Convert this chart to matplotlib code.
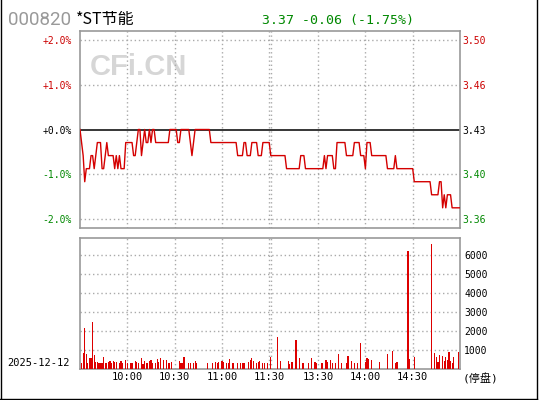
import matplotlib
matplotlib.use('Agg')
import matplotlib.pyplot as plt
from matplotlib.lines import Line2D
import numpy as np

matplotlib.rcParams['font.family'] = ['DejaVu Sans Mono', 'Noto Sans CJK SC']

code = '000820'
name = '*ST节能'
prev_close = 3.43
date = '2025-12-12'
status = '(停盘)'

# one price per minute, 09:30 ... 11:30 | 13:00 ... 15:00
price = [
    3.43, 3.42, 3.41, 3.39, 3.40, 3.40, 3.40, 3.41, 3.41, 3.40,
    3.41, 3.42, 3.42, 3.42, 3.40, 3.40, 3.41, 3.42, 3.41, 3.41,
    3.41, 3.41, 3.40, 3.41, 3.40, 3.41, 3.40, 3.40, 3.40, 3.42,
    3.42, 3.42, 3.42, 3.42, 3.41, 3.41, 3.42, 3.43, 3.43, 3.41,
    3.42, 3.43, 3.42, 3.42, 3.43, 3.42, 3.43, 3.43, 3.42, 3.42,
    3.42, 3.42, 3.42, 3.42, 3.42, 3.42, 3.42, 3.43, 3.43, 3.43,
    3.43, 3.43, 3.42, 3.42, 3.43, 3.43, 3.43, 3.43, 3.43, 3.43,
    3.42, 3.41, 3.42, 3.43, 3.43, 3.43, 3.43, 3.43, 3.43, 3.43,
    3.43, 3.43, 3.43, 3.42, 3.42, 3.42, 3.42, 3.42, 3.42, 3.42,
    3.42, 3.42, 3.42, 3.42, 3.42, 3.42, 3.42, 3.42, 3.42, 3.42,
    3.41, 3.41, 3.41, 3.41, 3.42, 3.42, 3.41, 3.41, 3.41, 3.42,
    3.42, 3.42, 3.42, 3.41, 3.41, 3.41, 3.42, 3.42, 3.42, 3.42,
    3.42, 3.41, 3.41, 3.41, 3.41, 3.41, 3.41, 3.41, 3.41, 3.41,
    3.41, 3.40, 3.40, 3.40, 3.40, 3.40, 3.40, 3.40, 3.40, 3.40,
    3.41, 3.41, 3.41, 3.40, 3.40, 3.40, 3.40, 3.40, 3.40, 3.40,
    3.40, 3.40, 3.40, 3.40, 3.40, 3.41, 3.40, 3.41, 3.41, 3.41,
    3.41, 3.40, 3.40, 3.42, 3.42, 3.42, 3.42, 3.42, 3.42, 3.41,
    3.41, 3.41, 3.41, 3.41, 3.42, 3.42, 3.42, 3.42, 3.41, 3.41,
    3.41, 3.40, 3.42, 3.42, 3.42, 3.41, 3.41, 3.41, 3.41, 3.41,
    3.41, 3.41, 3.41, 3.41, 3.41, 3.40, 3.40, 3.40, 3.40, 3.40,
    3.41, 3.40, 3.40, 3.40, 3.40, 3.40, 3.40, 3.40, 3.40, 3.40,
    3.40, 3.40, 3.39, 3.39, 3.39, 3.39, 3.39, 3.39, 3.39, 3.39,
    3.39, 3.39, 3.39, 3.38, 3.38, 3.38, 3.38, 3.38, 3.39, 3.39,
    3.37, 3.38, 3.37, 3.38, 3.38, 3.38, 3.37, 3.37, 3.37, 3.37,
    3.37, 3.37,
]

volume = [
    0, 330, 860, 2200, 800, 330, 600, 600, 2490, 750,
    390, 390, 330, 330, 330, 650, 330, 330, 390, 440,
    330, 440, 390, 390, 0, 330, 440, 330, 0, 490,
    330, 0, 330, 330, 0, 440, 390, 330, 0, 600,
    280, 440, 330, 330, 440, 490, 330, 0, 330, 540,
    390, 600, 0, 490, 0, 490, 330, 330, 390, 0,
    0, 0, 0, 440, 330, 330, 650, 0, 0, 330,
    330, 0, 330, 440, 330, 0, 0, 0, 0, 0,
    0, 330, 0, 0, 330, 0, 390, 330, 390, 0,
    440, 390, 0, 330, 330, 540, 0, 330, 0, 0,
    330, 0, 330, 330, 330, 0, 0, 390, 490, 600,
    440, 0, 330, 390, 440, 0, 330, 330, 0, 330,
    0, 650, 0, 0, 0, 1700, 0, 440, 0, 0,
    0, 0, 440, 280, 390, 390, 0, 1540, 0, 600,
    0, 330, 330, 0, 0, 330, 0, 600, 0, 390,
    330, 0, 0, 330, 330, 0, 490, 390, 0, 490,
    330, 0, 330, 0, 800, 0, 330, 0, 0, 330,
    700, 0, 440, 0, 330, 0, 330, 0, 1380, 0,
    0, 390, 600, 540, 0, 490, 0, 0, 0, 0,
    390, 0, 0, 0, 0, 800, 0, 0, 960, 0,
    330, 390, 0, 0, 0, 0, 0, 0, 6240, 540,
    0, 0, 650, 0, 0, 0, 0, 0, 0, 0,
    0, 0, 0, 6590, 0, 860, 650, 390, 750, 0,
    700, 440, 650, 490, 910, 440, 330, 650, 0, 0,
    910, 0,
]

pct_ticks = [-2, -1, 0, 1, 2]
vol_ticks = [1000, 2000, 3000, 4000, 5000, 6000]
time_pos = [30, 60, 90, 120, 151, 181, 211]
time_labels = ['10:00', '10:30', '11:00', '11:30', '13:30', '14:00', '14:30']
grid_x = [30, 60, 90, 120, 121, 151, 181, 211]

RED = '#cc0000'
GREEN = '#008800'
GRID = '#aaaaaa'
FRAME = '#999999'
DOT = (0, (1, 2))

minutes = np.arange(len(price))
pct = (np.array(price) / prev_close - 1) * 100
last = price[-1]
chg = last - prev_close

fig = plt.figure(figsize=(5.4, 4), dpi=100)
W, H = 540.0, 400.0

ax1 = fig.add_axes([80 / W, 172 / H, 380 / W, 197 / H])
ax2 = fig.add_axes([80 / W, 30.7 / H, 380 / W, 131 / H])

for ax in (ax1, ax2):
    for s in ax.spines.values():
        s.set_color(FRAME)
        s.set_linewidth(1.2)
    ax.set_xlim(0, len(price) - 1)
    for gx in grid_x:
        ax.axvline(gx, color=GRID, lw=1, ls=DOT, zorder=1)

# price panel
ax1.set_ylim(-2.2, 2.2)
for p in pct_ticks:
    if p != 0:
        ax1.axhline(p, color=GRID, lw=1, ls=DOT, zorder=1)
ax1.axhline(0, color='black', lw=1.1, zorder=2)
ax1.plot(minutes, pct, color='#d40000', lw=1.0, zorder=3)
ax1.set_xticks([])
ax1.set_yticks(pct_ticks)
ax1.set_yticklabels([f'{p:+.1f}%' for p in pct_ticks])
ax1.tick_params(axis='y', length=0, pad=6, labelsize=7)
for lab, p in zip(ax1.get_yticklabels(), pct_ticks):
    lab.set_color(RED if p > 0 else (GREEN if p < 0 else 'black'))

ax1r = ax1.twinx()
ax1r.set_ylim(ax1.get_ylim())
ax1r.set_yticks(pct_ticks)
ax1r.set_yticklabels([f'{prev_close * (1 + p / 100):.2f}' for p in pct_ticks])
ax1r.tick_params(axis='y', length=0, pad=1.5, labelsize=7)
for lab, p in zip(ax1r.get_yticklabels(), pct_ticks):
    lab.set_color(RED if p > 0 else (GREEN if p < 0 else 'black'))
for s in ax1r.spines.values():
    s.set_visible(False)

ax1.text(90 / W, (H - 75) / H, 'CFi.CN', transform=fig.transFigure,
         family='Liberation Sans', weight='bold', fontsize=21,
         color='#d6d6d6', zorder=0.5, va='baseline')

# volume panel
ax2.set_ylim(0, 6900)
for v in vol_ticks:
    ax2.axhline(v, color=GRID, lw=1, ls=DOT, zorder=1)
ax2.bar(minutes, volume, width=0.75, color='#dd0000', lw=0, zorder=3,
        antialiased=False)
ax2.yaxis.tick_right()
ax2.set_yticks(vol_ticks)
ax2.set_yticklabels([str(v) for v in vol_ticks])
ax2.tick_params(axis='y', length=0, pad=3, labelsize=7)
ax2.set_xticks(time_pos)
ax2.set_xticklabels(time_labels)
ax2.tick_params(axis='x', length=0, pad=2, labelsize=7.5)

# header
fig.text(8 / W, (H - 25) / H, code, family='Roboto', fontsize=13.5,
         color='#999999', va='baseline')
fig.text(76 / W, (H - 24) / H, name, family=['Noto Sans CJK SC', 'DejaVu Sans'],
         fontsize=11.5, color='black', va='baseline')
fig.text(262 / W, (H - 24) / H,
         f'{last:.2f} {chg:+.2f} ({chg / prev_close * 100:+.2f}%)',
         family='DejaVu Sans Mono', fontsize=9.5, color=GREEN, va='baseline')
fig.text(7 / W, (H - 363) / H, date, fontsize=7.5, va='center')
fig.text(463 / W, (H - 379) / H, status,
         family=['DejaVu Sans Mono', 'Noto Sans CJK SC'], fontsize=8, va='center')

# outer frame (left, right, bottom)
for xs, ys in [([0.5 / W, 0.5 / W], [0, 1]), ([537 / W, 537 / W], [0, 1]),
               ([0, 537 / W], [1.5 / H, 1.5 / H])]:
    fig.add_artist(Line2D(xs, ys, color='black', lw=1, transform=fig.transFigure))

fig.savefig('out.png', dpi=100)
